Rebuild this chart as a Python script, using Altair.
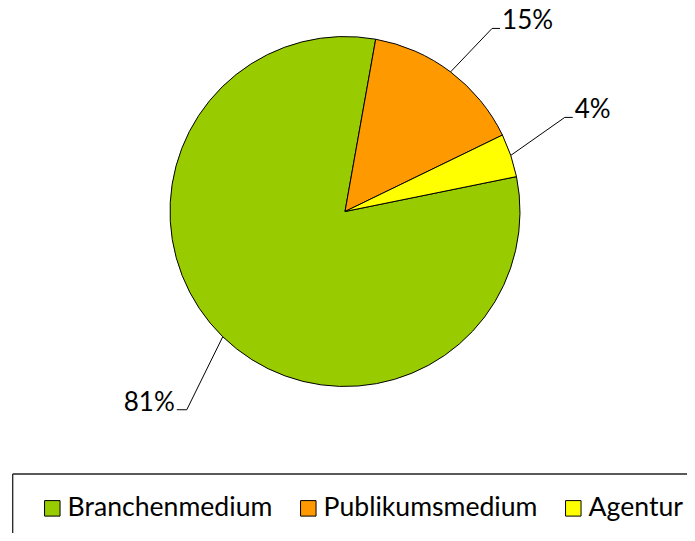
import math
import altair as alt
import pandas as pd

# ---- data ----
categories = ["Branchenmedium", "Publikumsmedium", "Agentur"]
shares = [81, 15, 4]
labels = ["81%", "15%", "4%"]
colors = ["#99CC00", "#FF9900", "#FFFF00"]

# ---- layout ----
W, H = 679, 525
CX, CY, R = 337, 203.5, 175
START_DEG = 78.5
FONT = "Lato"
FS = 26
LEG_FS = 26.6
elbow_dx = [-36, 41.5, 54]
elbow_dy = [73, -43.5, -38]
tail = [-10, 8, 8]

df = pd.DataFrame({"cat": categories, "share": shares, "ord": list(range(len(categories)))})

rows, texts = [], []
total = sum(shares)
cum = 0
for i, (c, v, lab) in enumerate(zip(categories, shares, labels)):
    mid = math.radians(START_DEG + (cum + v / 2) / total * 360)
    cum += v
    x0 = CX + R * math.sin(mid)
    y0 = CY - R * math.cos(mid)
    x1 = x0 + elbow_dx[i]
    y1 = y0 + elbow_dy[i]
    x2 = x1 + tail[i]
    rows += [
        dict(cat=c, step=0, px=x0, py=y0),
        dict(cat=c, step=1, px=x1, py=y1),
        dict(cat=c, step=2, px=x2, py=y1),
    ]
    texts.append(dict(label=lab, px=x2 + (2 if tail[i] > 0 else -2), py=y1 + 1,
                      side="left" if tail[i] > 0 else "right"))

lines_df = pd.DataFrame(rows)
texts_df = pd.DataFrame(texts)

start = math.radians(START_DEG)
pie = alt.Chart(df).mark_arc(radius=R, stroke="black", strokeWidth=1).encode(
    theta=alt.Theta("share:Q", stack=True, scale=alt.Scale(range=[start, start + 2 * math.pi])),
    order=alt.Order("ord:Q"),
    color=alt.Color(
        "cat:N",
        scale=alt.Scale(domain=categories, range=colors),
        legend=alt.Legend(
            title=None, orient="none", legendX=31, legendY=487, direction="horizontal",
            padding=0, symbolType="square", symbolSize=240, symbolStrokeColor="black",
            symbolStrokeWidth=1, symbolOpacity=1, labelFont=FONT, labelFontSize=LEG_FS,
            labelColor="black", columnPadding=22, labelOffset=2, labelLimit=0,
        ),
    ),
    x=alt.value(CX),
    y=alt.value(CY),
)

lines = alt.Chart(lines_df).mark_line(color="black", strokeWidth=1).encode(
    x=alt.X("px:Q", scale=None, axis=None),
    y=alt.Y("py:Q", scale=None, axis=None),
    detail="cat:N",
    order="step:Q",
)

text_l = alt.Chart(texts_df[texts_df.side == "left"]).mark_text(
    align="left", baseline="alphabetic", font=FONT, fontSize=FS, color="black"
).encode(x=alt.X("px:Q", scale=None, axis=None), y=alt.Y("py:Q", scale=None, axis=None), text="label:N")

text_r = alt.Chart(texts_df[texts_df.side == "right"]).mark_text(
    align="right", baseline="alphabetic", font=FONT, fontSize=FS, color="black"
).encode(x=alt.X("px:Q", scale=None, axis=None), y=alt.Y("py:Q", scale=None, axis=None), text="label:N")

box_df = pd.DataFrame({"k": [0]})
box_top = alt.Chart(box_df).mark_rule(color="#222222", strokeWidth=1.3).encode(
    x=alt.value(4.7), x2=alt.value(W), y=alt.value(466)
)
box_left = alt.Chart(box_df).mark_rule(color="#222222", strokeWidth=1.3).encode(
    x=alt.value(4.7), y=alt.value(466), y2=alt.value(H)
)

chart = alt.layer(pie, lines, text_l, text_r, box_top, box_left).properties(
    width=W, height=H, padding=0, autosize="none"
).configure_view(stroke=None)

chart.save("out.html", embed_options={"renderer": "svg", "actions": False})
